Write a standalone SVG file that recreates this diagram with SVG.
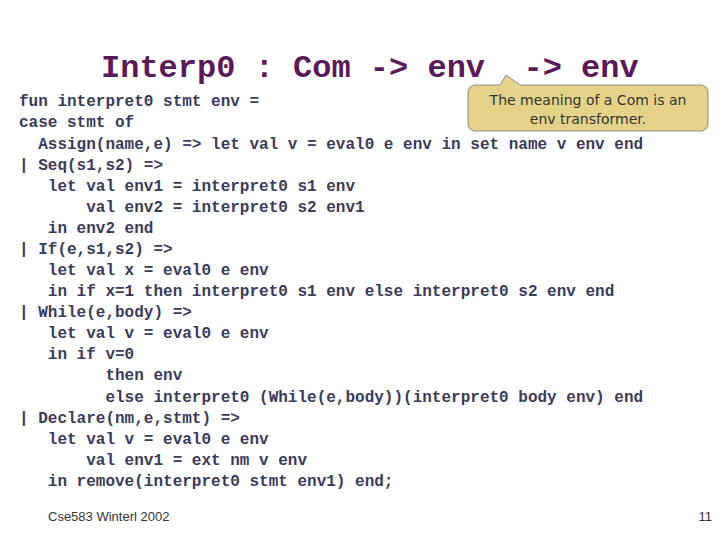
<svg xmlns="http://www.w3.org/2000/svg" width="720" height="540" viewBox="0 0 720 540">
<style>
.c{font-family:"Liberation Mono",monospace;font-weight:bold;font-size:16px;fill:#3a3a5a;white-space:pre}
.t{font-family:"Liberation Mono",monospace;font-weight:bold;font-size:32px;fill:#5a1a5a;white-space:pre}
.s{font-family:"DejaVu Sans",sans-serif;font-size:14px;fill:#333}
.f{font-family:"Liberation Sans",sans-serif;font-size:13px;fill:#333}
</style>
<rect width="720" height="540" fill="#fff"/>
<text class="t" x="101" y="77" xml:space="preserve">Interp0 : Com -&gt; env  -&gt; env</text>
<g id="callout">
<path d="M476,85 L500,85 L506,75 L520,85 L700,85 Q708,85 708,93 L708,123 Q708,131 700,131 L476,131 Q468,131 468,123 L468,93 Q468,85 476,85 Z" fill="#e6d38a" stroke="#8a8a8a" stroke-width="1"/>
<text class="s" x="588" y="105" text-anchor="middle">The meaning of a Com is an</text>
<text class="s" x="588" y="124" text-anchor="middle">env transformer.</text>
</g>
<g xml:space="preserve">
<text class="c" x="19" y="106">fun interpret0 stmt env =</text>
<text class="c" x="19" y="127">case stmt of</text>
<text class="c" x="19" y="149">  Assign(name,e) =&gt; let val v = eval0 e env in set name v env end</text>
<text class="c" x="19" y="170">| Seq(s1,s2) =&gt;</text>
<text class="c" x="19" y="191">   let val env1 = interpret0 s1 env</text>
<text class="c" x="19" y="212">       val env2 = interpret0 s2 env1</text>
<text class="c" x="19" y="233">   in env2 end</text>
<text class="c" x="19" y="254">| If(e,s1,s2) =&gt;</text>
<text class="c" x="19" y="275">   let val x = eval0 e env</text>
<text class="c" x="19" y="296">   in if x=1 then interpret0 s1 env else interpret0 s2 env end</text>
<text class="c" x="19" y="317">| While(e,body) =&gt;</text>
<text class="c" x="19" y="338">   let val v = eval0 e env</text>
<text class="c" x="19" y="359">   in if v=0</text>
<text class="c" x="19" y="380">         then env</text>
<text class="c" x="19" y="402">         else interpret0 (While(e,body))(interpret0 body env) end</text>
<text class="c" x="19" y="423">| Declare(nm,e,stmt) =&gt;</text>
<text class="c" x="19" y="444">   let val v = eval0 e env</text>
<text class="c" x="19" y="465">       val env1 = ext nm v env</text>
<text class="c" x="19" y="486">   in remove(interpret0 stmt env1) end;</text>
</g>
<text class="f" x="48" y="521">Cse583 Winterl 2002</text>
<text class="f" x="712" y="521" text-anchor="end">11</text>
</svg>
